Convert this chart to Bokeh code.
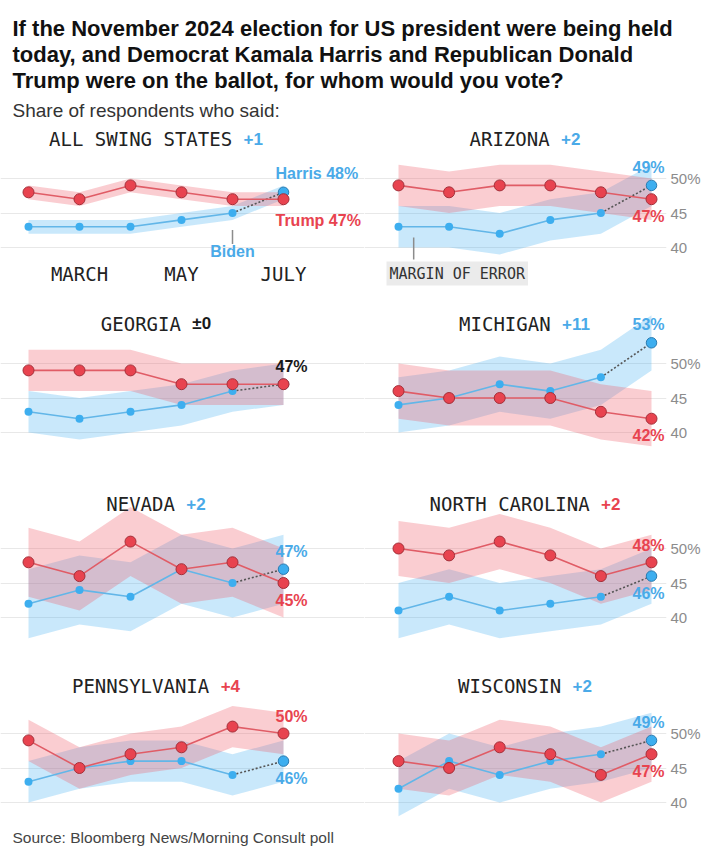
from bokeh.plotting import figure
from bokeh.layouts import column, row
from bokeh.models import Label, Grid, FixedTicker, LinearAxis, Range1d
from bokeh.embed import file_html
from bokeh.resources import INLINE

# ---------------- data ----------------
months = ["FEB", "MARCH", "APRIL", "MAY", "JUNE", "JULY"]
month_ticks = ["MARCH", "MAY", "JULY"]
y_ticks = [40, 45, 50]
y_tick_overrides = {50: "50%"}

states = ["ALL SWING STATES", "ARIZONA", "GEORGIA", "MICHIGAN",
          "NEVADA", "NORTH CAROLINA", "PENNSYLVANIA", "WISCONSIN"]

trump_swing = [48, 47, 49, 48, 47, 47]
biden_swing = [43, 43, 43, 44, 45]
harris_swing = 48
moe_swing = 1

trump_az = [49, 48, 49, 49, 48, 47]
biden_az = [43, 43, 42, 44, 45]
harris_az = 49
moe_az = 3

trump_ga = [49, 49, 49, 47, 47, 47]
biden_ga = [43, 42, 43, 44, 46]
harris_ga = 47
moe_ga = 3

trump_mi = [46, 45, 45, 45, 43, 42]
biden_mi = [44, 45, 47, 46, 48]
harris_mi = 53
moe_mi = 4

trump_nv = [48, 46, 51, 47, 48, 45]
biden_nv = [42, 44, 43, 47, 45]
harris_nv = 47
moe_nv = 5

trump_nc = [50, 49, 51, 49, 46, 48]
biden_nc = [41, 43, 41, 42, 43]
harris_nc = 46
moe_nc = 4

trump_pa = [49, 45, 47, 48, 51, 50]
biden_pa = [43, 45, 46, 46, 44]
harris_pa = 46
moe_pa = 3

trump_wi = [46, 45, 48, 47, 44, 47]
biden_wi = [42, 46, 44, 46, 47]
harris_wi = 49
moe_wi = 4

series = [
    (trump_swing, biden_swing, harris_swing, moe_swing),
    (trump_az, biden_az, harris_az, moe_az),
    (trump_ga, biden_ga, harris_ga, moe_ga),
    (trump_mi, biden_mi, harris_mi, moe_mi),
    (trump_nv, biden_nv, harris_nv, moe_nv),
    (trump_nc, biden_nc, harris_nc, moe_nc),
    (trump_pa, biden_pa, harris_pa, moe_pa),
    (trump_wi, biden_wi, harris_wi, moe_wi),
]

# ---------------- style ----------------
RED = "#e8434f"
RED_DARK = "#a3303a"
RED_LINE = "#e05c66"
RED_BAND = "#ee5a66"
RED_TEXT = "#e8434f"
BLUE = "#3daeef"
BLUE_DARK = "#2a7bb0"
BLUE_LINE = "#62b6e8"
BLUE_BAND = "#3daeef"
BLUE_TEXT = "#4aaae8"
DARK = "#1a1a1a"
GRID = "#e8e8e8"

SANS = "Liberation Sans"
MONO = "DejaVu Sans Mono"
MONO_FS = 19
MONO_CW = 0.602 * MONO_FS
MARGIN_FS = 17
CHAR_W = {"+": 0.584, "\u00b1": 0.549}

PX = 6.9            # pixels per percentage point
LEFT_STEP = 51.0    # pixels between months, left column
RIGHT_STEP = 50.6   # pixels between months, right column
LEFT_W = 364
LEFT_PAD = 28
RIGHT_FRAME_W = 302
RIGHT_PAD = 34
TOTAL_W = 700
HEADER_H = 123
ROW_H = [185, 185, 180, 147]
ROW_TOP = [55, 55, 55, 60]      # pixels from row top to the 50% line
FOOTER_H = 28
TITLE_DY = [40, 40, 45, 48]


def base_fig(is_right, r):
    H = ROW_H[r]
    top = 50 + ROW_TOP[r] / PX
    yr = Range1d(top - H / PX, top)
    if is_right:
        start = -RIGHT_PAD / RIGHT_STEP
        xr = Range1d(start, start + RIGHT_FRAME_W / RIGHT_STEP)
        p = figure(frame_width=RIGHT_FRAME_W, frame_height=H, x_range=xr, y_range=yr,
                   x_axis_type=None, y_axis_type=None, toolbar_location=None,
                   output_backend="svg", min_border=0)
        ax = LinearAxis(ticker=FixedTicker(ticks=y_ticks),
                        major_label_overrides=y_tick_overrides,
                        axis_line_color=None, major_tick_line_color=None,
                        minor_tick_line_color=None, major_tick_in=0, major_tick_out=0,
                        major_label_standoff=4,
                        major_label_text_color="#8c8c8c",
                        major_label_text_font=SANS,
                        major_label_text_font_size="15px")
        p.add_layout(ax, "right")
    else:
        start = -LEFT_PAD / LEFT_STEP
        xr = Range1d(start, start + LEFT_W / LEFT_STEP)
        p = figure(width=LEFT_W, height=H, x_range=xr, y_range=yr,
                   x_axis_type=None, y_axis_type=None, toolbar_location=None,
                   output_backend="svg", min_border=0)
    p.outline_line_color = None
    p.background_fill_color = "white"
    p.border_fill_color = "white"
    p.add_layout(Grid(dimension=1, ticker=FixedTicker(ticks=y_ticks),
                      grid_line_color=GRID, grid_line_width=1))
    return p


def make_panel(i):
    name = states[i]
    trump, biden, harris, moe = series[i]
    is_right = i % 2 == 1
    r = i // 2
    p = base_fig(is_right, r)

    xs = list(range(len(trump)))
    xb = xs[:len(biden)]
    xh = len(biden)
    dem = biden + [harris]

    p.varea(x=xs, y1=[v - moe for v in dem], y2=[v + moe for v in dem],
            fill_color=BLUE_BAND, fill_alpha=0.28)
    p.varea(x=xs, y1=[v - moe for v in trump], y2=[v + moe for v in trump],
            fill_color=RED_BAND, fill_alpha=0.30)
    p.line(xb, biden, line_color=BLUE_LINE, line_width=1.6)
    p.line([xb[-1], xh], [biden[-1], harris], line_color="#555555",
           line_width=1.6, line_dash="2 2")
    p.line(xs, trump, line_color=RED_LINE, line_width=1.6)
    p.scatter(xb, biden, size=8, fill_color=BLUE, line_color=None)
    p.scatter([xh], [harris], size=10.5, fill_color=BLUE, line_color=BLUE_DARK, line_width=1)
    p.scatter(xs, trump, size=11, fill_color=RED, line_color=RED_DARK, line_width=1)

    # ---- panel title: name + lead ----
    diff = harris - trump[-1]
    if diff > 0:
        mtxt, mcol = "+%d" % diff, BLUE_TEXT
    elif diff < 0:
        mtxt, mcol = "+%d" % (-diff), RED_TEXT
    else:
        mtxt, mcol = "\u00b10", DARK
    name_w = len(name) * MONO_CW
    m_w = sum(CHAR_W.get(c, 0.556) for c in mtxt) * MARGIN_FS
    total = name_w + MONO_CW + m_w
    xc = (xs[0] + xs[-1]) / 2
    p.add_layout(Label(x=xc, y=50, x_offset=-total / 2, y_offset=TITLE_DY[r],
                       text=name, text_font=MONO, text_font_size="%dpx" % MONO_FS,
                       text_color="#222222", text_align="left", text_baseline="middle"))
    p.add_layout(Label(x=xc, y=50, x_offset=-total / 2 + name_w + MONO_CW, y_offset=TITLE_DY[r],
                       text=mtxt, text_font=SANS, text_font_size="%dpx" % MARGIN_FS,
                       text_font_style="bold", text_color=mcol,
                       text_align="left", text_baseline="middle"))

    # ---- end-of-line value labels ----
    t_end = trump[-1]
    if i == 0:
        p.add_layout(Label(x=xh, y=harris, x_offset=-8, y_offset=19,
                           text="Harris %d%%" % harris, text_font=SANS, text_font_size="16px",
                           text_font_style="bold", text_color=BLUE_TEXT,
                           text_align="left", text_baseline="middle"))
        p.add_layout(Label(x=xh, y=t_end, x_offset=-8, y_offset=-21,
                           text="Trump %d%%" % t_end, text_font=SANS, text_font_size="16px",
                           text_font_style="bold", text_color=RED_TEXT,
                           text_align="left", text_baseline="middle"))
    else:
        xo = -3 if is_right else 8
        if diff == 0:
            items = [(harris, 18, DARK)]
        elif diff > 0:
            items = [(harris, 18, BLUE_TEXT), (t_end, -17, RED_TEXT)]
        else:
            items = [(t_end, 17, RED_TEXT), (harris, -17, BLUE_TEXT)]
        for v, dy, col in items:
            p.add_layout(Label(x=xh, y=v, x_offset=xo, y_offset=dy,
                               text="%d%%" % v, text_font=SANS, text_font_size="16px",
                               text_font_style="bold", text_color=col,
                               text_align="center", text_baseline="middle"))

    if i == 0:
        for m in month_ticks:
            p.add_layout(Label(x=months.index(m), y=40, y_offset=-26, text=m,
                               text_font=MONO, text_font_size="%dpx" % MONO_FS,
                               text_color="#222222", text_align="center",
                               text_baseline="middle"))
        # Biden pointer
        xb_last = xb[-1]
        p.segment(x0=[xb_last], y0=[biden[-1] - 17 / PX], x1=[xb_last], y1=[biden[-1] - 31 / PX],
                  line_color="#8c8c8c", line_width=1.5)
        p.add_layout(Label(x=xb_last, y=biden[-1], y_offset=-38, text="Biden",
                           text_font=SANS, text_font_size="16px", text_font_style="bold",
                           text_color=BLUE_TEXT, text_align="center", text_baseline="middle"))
    if i == 1:
        p.segment(x0=[0.3], y0=[40 + 10 / PX], x1=[0.3], y1=[40 - 12 / PX],
                  line_color="#8c8c8c", line_width=1.5)
        p.add_layout(Label(x=0, y=40, x_offset=-12, y_offset=-26, text="MARGIN OF ERROR",
                           text_font=MONO, text_font_size="15px", text_color="#333333",
                           text_align="left", text_baseline="middle",
                           background_fill_color="#ebebeb", padding=3))
    return p


def blank(width, height):
    p = figure(width=width, height=height, x_range=Range1d(0, 1), y_range=Range1d(0, 1),
               x_axis_type=None, y_axis_type=None, toolbar_location=None,
               output_backend="svg", min_border=0)
    p.outline_line_color = None
    p.grid.visible = False
    return p


header = blank(TOTAL_W, HEADER_H)
title_lines = ["If the November 2024 election for US president were being held",
               "today, and Democrat Kamala Harris and Republican Donald",
               "Trump were on the ballot, for whom would you vote?"]
for k, line in enumerate(title_lines):
    header.add_layout(Label(x=12, y=HEADER_H - (28 + 26 * k), x_units="screen", y_units="screen",
                            text=line, text_font=SANS, text_font_size="22px",
                            text_font_style="bold", text_color="#111111",
                            text_align="left", text_baseline="alphabetic"))
header.add_layout(Label(x=12, y=HEADER_H - 110, x_units="screen", y_units="screen",
                        text="Share of respondents who said:", text_font=SANS,
                        text_font_size="19px", text_color="#333333",
                        text_align="left", text_baseline="alphabetic"))

footer = blank(TOTAL_W, FOOTER_H)
footer.add_layout(Label(x=12, y=11, x_units="screen", y_units="screen",
                        text="Source: Bloomberg News/Morning Consult poll", text_font=SANS,
                        text_font_size="15.5px", text_color="#444444",
                        text_align="left", text_baseline="middle"))

panels = [make_panel(i) for i in range(len(states))]
rows = [row(panels[2 * k], panels[2 * k + 1]) for k in range(4)]
layout = column(header, *rows, footer)

open("out.html", "w").write(file_html(layout, INLINE))
